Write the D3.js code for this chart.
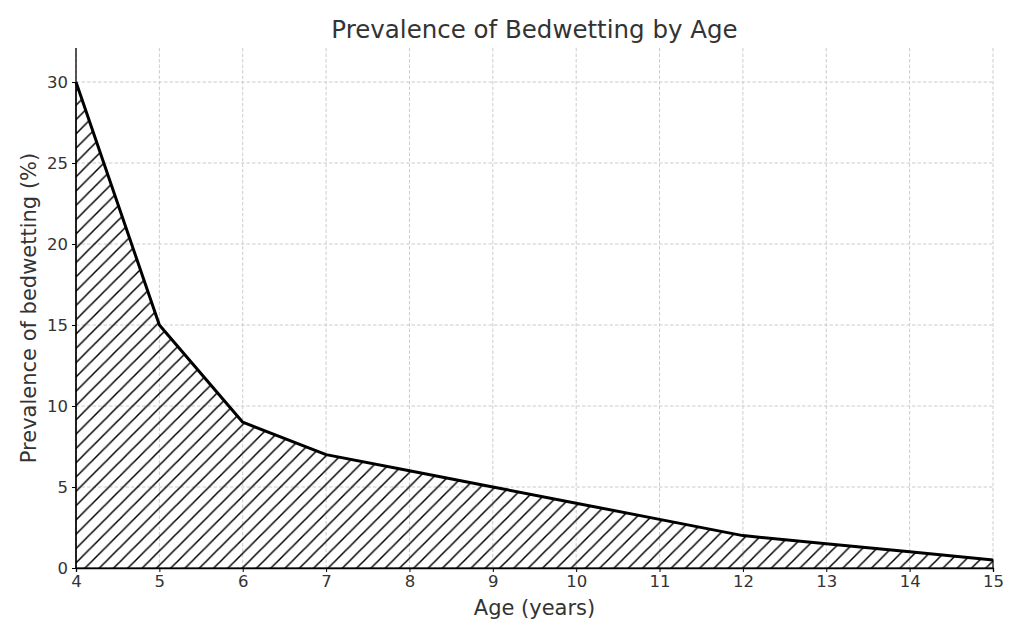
<!DOCTYPE html>
<html>
<head>
<meta charset="utf-8">
<script src="https://cdn.jsdelivr.net/npm/d3@7"></script>
<style>
  body { margin: 0; background: #fff; }
  text { font-family: "DejaVu Sans", sans-serif; fill: #333; }
</style>
</head>
<body>
<svg id="chart" width="1024" height="640"></svg>
<script>
// data
const ages = [4, 5, 6, 7, 8, 9, 10, 11, 12, 13, 14, 15];
const prevalence = [30, 15, 9, 7, 6, 5, 4, 3, 2, 1.5, 1, 0.5];
const yTicks = [0, 5, 10, 15, 20, 25, 30];

const margin = { top: 48, right: 31, bottom: 72, left: 76 };
const width = 1024 - margin.left - margin.right;
const height = 640 - margin.top - margin.bottom;

const svg = d3.select("#chart");

// hatch pattern
const defs = svg.append("defs");
const pat = defs.append("pattern")
  .attr("id", "hatch")
  .attr("patternUnits", "userSpaceOnUse")
  .attr("width", 14.3)
  .attr("height", 14.3);
pat.append("path")
  .attr("d", "M-3.6,3.6 L3.6,-3.6 M0,14.3 L14.3,0 M10.7,17.9 L17.9,10.7")
  .attr("stroke", "#000")
  .attr("stroke-width", 1.5);

const g = svg.append("g")
  .attr("transform", "translate(" + margin.left + "," + margin.top + ")");

const x = d3.scaleLinear().domain([4, 15]).range([0, width]);
const y = d3.scaleLinear().domain([0, 32.1]).range([height, 0]);

// grid
g.append("g")
  .selectAll("line")
  .data(ages)
  .enter()
  .append("line")
  .attr("x1", d => x(d)).attr("x2", d => x(d))
  .attr("y1", 0).attr("y2", height)
  .attr("stroke", "#cccccc")
  .attr("stroke-width", 1)
  .attr("stroke-dasharray", "3.5,2");

g.append("g")
  .selectAll("line")
  .data(yTicks)
  .enter()
  .append("line")
  .attr("x1", 0).attr("x2", width)
  .attr("y1", d => y(d)).attr("y2", d => y(d))
  .attr("stroke", "#cccccc")
  .attr("stroke-width", 1)
  .attr("stroke-dasharray", "3.5,2");

const points = ages.map((a, i) => ({ age: a, value: prevalence[i] }));

// hatched area
const area = d3.area()
  .x(d => x(d.age))
  .y0(y(0))
  .y1(d => y(d.value));

g.append("path")
  .datum(points)
  .attr("d", area)
  .attr("fill", "url(#hatch)")
  .attr("stroke", "#000")
  .attr("stroke-width", 1.2);

// line
const line = d3.line()
  .x(d => x(d.age))
  .y(d => y(d.value));

g.append("path")
  .datum(points)
  .attr("d", line)
  .attr("fill", "none")
  .attr("stroke", "#000")
  .attr("stroke-width", 3)
  .attr("stroke-linejoin", "round");

// axes
const xAxis = g.append("g")
  .attr("transform", "translate(0," + height + ")")
  .call(d3.axisBottom(x).tickValues(ages).tickFormat(d3.format("d")).tickSizeOuter(0).tickSize(4).tickPadding(3));

const yAxis = g.append("g")
  .call(d3.axisLeft(y).tickValues(yTicks).tickSizeOuter(0).tickSize(4).tickPadding(4));

[xAxis, yAxis].forEach(ax => {
  ax.select(".domain").attr("stroke", "#000").attr("stroke-width", 1.3);
  ax.selectAll(".tick line").attr("stroke", "#000");
  ax.selectAll(".tick text").style("font-size", "16.5px").attr("fill", "#333");
});
yAxis.select(".domain").attr("d", "M0," + height + "V0");

// title and labels
svg.append("text")
  .attr("x", margin.left + width / 2)
  .attr("y", 38)
  .attr("text-anchor", "middle")
  .style("font-size", "24.5px")
  .text("Prevalence of Bedwetting by Age");

svg.append("text")
  .attr("x", margin.left + width / 2)
  .attr("y", 615)
  .attr("text-anchor", "middle")
  .style("font-size", "21px")
  .text("Age (years)");

svg.append("text")
  .attr("transform", "translate(36," + (margin.top + height / 2) + ") rotate(-90)")
  .attr("text-anchor", "middle")
  .style("font-size", "21px")
  .text("Prevalence of bedwetting (%)");
</script>
</body>
</html>
